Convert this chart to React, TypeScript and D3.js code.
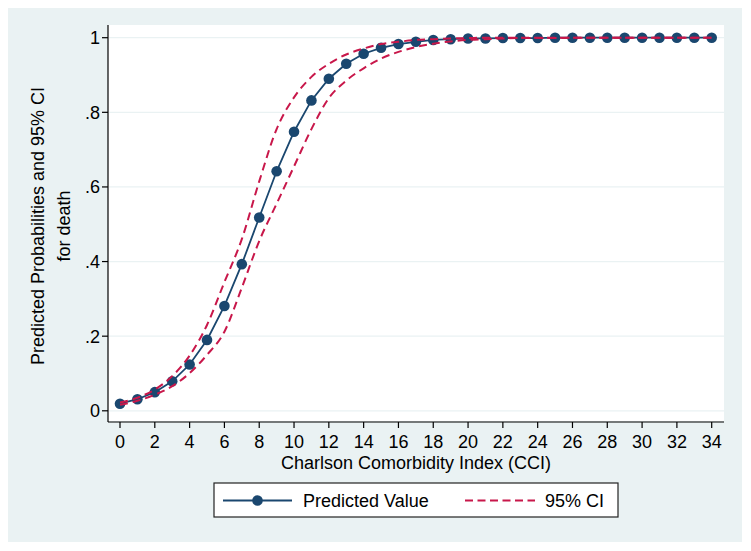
import React from "react";
import * as d3 from "d3";

const cci: number[] = d3.range(0, 35);
const predicted: number[] = [
  0.019, 0.031, 0.05, 0.079, 0.124, 0.19, 0.281, 0.393, 0.518, 0.642,
  0.748, 0.832, 0.89, 0.93, 0.957, 0.973, 0.983, 0.989, 0.994, 0.996,
  0.998, 0.998, 0.999, 0.999, 0.999, 1, 1, 1, 1, 1, 1, 1, 1, 1, 1,
];
const lowerCI: number[] = [
  0.016, 0.027, 0.043, 0.066, 0.101, 0.15, 0.212, 0.33, 0.455, 0.555,
  0.655, 0.755, 0.838, 0.885, 0.918, 0.944, 0.962, 0.975, 0.984, 0.99,
  0.994, 0.996, 0.998, 0.999, 0.999, 0.999, 1, 1, 1, 1, 1, 1, 1, 1, 1,
];
const upperCI: number[] = [
  0.022, 0.035, 0.057, 0.093, 0.148, 0.23, 0.345, 0.46, 0.615, 0.755,
  0.84, 0.895, 0.93, 0.955, 0.971, 0.983, 0.989, 0.994, 0.996, 0.998,
  0.999, 1, 1, 1, 1, 1, 1, 1, 1, 1, 1, 1, 1, 1, 1,
];
const xTicks: number[] = d3.range(0, 35, 2);
const yTicks: number[] = [0, 0.2, 0.4, 0.6, 0.8, 1];
const yTickLabels: string[] = ["0", ".2", ".4", ".6", ".8", "1"];

const NAVY = "#1a476f";
const RED = "#c8174a";
const BG = "#eaf2f3";
const FONT = "'Liberation Sans', Arial, Helvetica, sans-serif";

export default function App() {
  const plotL = 108, plotR = 724, plotT = 25, plotB = 422;
  const x = d3.scaleLinear().domain([0, 34]).range([120, 711.7]);
  const y = d3.scaleLinear().domain([0, 1]).range([410.8, 37.7]);

  const predLine = d3
    .line<number>()
    .x((_, i) => x(cci[i]))
    .y((d) => y(d))
    .curve(d3.curveLinear);
  const ciLine = d3
    .line<number>()
    .x((_, i) => x(cci[i]))
    .y((d) => y(d))
    .curve(d3.curveMonotoneX);

  return (
    <svg
      width={751}
      height={551}
      style={{ position: "absolute", left: 0, top: 0 }}
      fontFamily={FONT}
    >
      <rect x={0} y={0} width={751} height={551} fill="#ffffff" />
      <rect x={8} y={8} width={734} height={534} fill={BG} />
      <rect x={plotL} y={plotT} width={plotR - plotL} height={plotB - plotT - 1} fill="#ffffff" />

      {/* gridlines */}
      {yTicks.map((t) => (
        <line key={"g" + t} x1={plotL + 1} x2={plotR} y1={y(t)} y2={y(t)} stroke={BG} strokeWidth={1.2} />
      ))}

      {/* axes */}
      <line x1={plotL} x2={plotL} y1={plotT} y2={plotB} stroke="#000" strokeWidth={1.2} />
      <line x1={plotL} x2={plotR} y1={plotB} y2={plotB} stroke="#000" strokeWidth={1.2} />

      {yTicks.map((t, i) => (
        <g key={"yt" + t}>
          <line x1={plotL - 6} x2={plotL} y1={y(t)} y2={y(t)} stroke="#000" strokeWidth={1.2} />
          <text x={100} y={y(t) + 6.5} textAnchor="end" fontSize={18} fill="#000">
            {yTickLabels[i]}
          </text>
        </g>
      ))}
      {xTicks.map((t) => (
        <g key={"xt" + t}>
          <line x1={x(t)} x2={x(t)} y1={plotB} y2={plotB + 6} stroke="#000" strokeWidth={1.2} />
          <text x={x(t)} y={448} textAnchor="middle" fontSize={18} fill="#000">
            {t}
          </text>
        </g>
      ))}

      <text x={416} y={469} textAnchor="middle" fontSize={18} fill="#000">
        Charlson Comorbidity Index (CCI)
      </text>
      <g transform="translate(44,226) rotate(-90)">
        <text x={0} y={0} textAnchor="middle" fontSize={18} fill="#000">
          Predicted Probabilities and 95% CI
        </text>
      </g>
      <g transform="translate(70,226) rotate(-90)">
        <text x={0} y={0} textAnchor="middle" fontSize={18} fill="#000">
          for death
        </text>
      </g>

      {/* predicted */}
      <path d={predLine(predicted) || ""} fill="none" stroke={NAVY} strokeWidth={1.8} />
      {predicted.map((d, i) => (
        <circle key={"m" + i} cx={x(cci[i])} cy={y(d)} r={5.3} fill={NAVY} />
      ))}

      {/* CI */}
      <path d={ciLine(lowerCI) || ""} fill="none" stroke={RED} strokeWidth={2} strokeDasharray="8,5" />
      <path d={ciLine(upperCI) || ""} fill="none" stroke={RED} strokeWidth={2} strokeDasharray="8,5" />

      {/* legend */}
      <rect x={214} y={483} width={404} height={34} fill="#ffffff" stroke="#222" strokeWidth={1.2} />
      <line x1={223} x2={292} y1={500.5} y2={500.5} stroke={NAVY} strokeWidth={1.8} />
      <circle cx={257.5} cy={500.5} r={5.3} fill={NAVY} />
      <text x={303} y={507} fontSize={18} fill="#000">
        Predicted Value
      </text>
      <line x1={465} x2={535} y1={500.5} y2={500.5} stroke={RED} strokeWidth={2} strokeDasharray="8,4.5" />
      <text x={545} y={507} fontSize={18} fill="#000">
        95% CI
      </text>
    </svg>
  );
}
